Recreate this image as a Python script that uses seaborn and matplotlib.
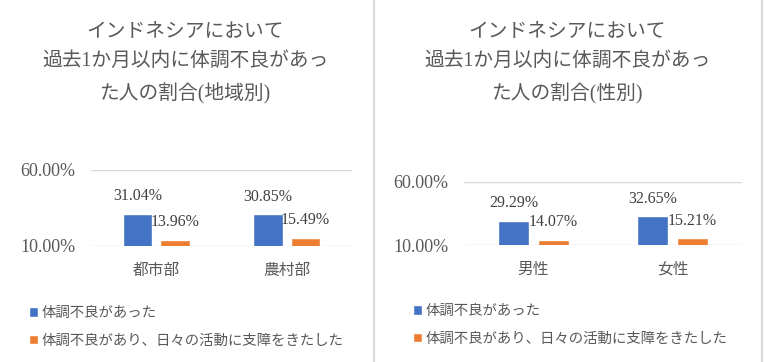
import matplotlib
matplotlib.use("Agg")
import matplotlib.pyplot as plt
from matplotlib.lines import Line2D
import pandas as pd
import seaborn as sns

# data
series_names = ["体調不良があった", "体調不良があり、日々の活動に支障をきたした"]
region_cats = ["都市部", "農村部"]
region_sick = [31.04, 30.85]
region_limited = [13.96, 15.49]
sex_cats = ["男性", "女性"]
sex_sick = [29.29, 32.65]
sex_limited = [14.07, 15.21]

title_region = "インドネシアにおいて\n過去1か月以内に体調不良があっ\nた人の割合(地域別)"
title_sex = "インドネシアにおいて\n過去1か月以内に体調不良があっ\nた人の割合(性別)"
ytick_vals = [0.10, 0.60]

colors = ["#4472C4", "#ED7D31"]
gray = "#595959"

sns.set_style("white")
plt.rcParams['font.family'] = ['Liberation Serif', 'Noto Sans CJK JP', 'DejaVu Sans']


def make_df(cats, sick, limited):
    rows = []
    for c, a, b in zip(cats, sick, limited):
        rows.append({"cat": c, "series": series_names[0], "value": a / 100})
        rows.append({"cat": c, "series": series_names[1], "value": b / 100})
    return pd.DataFrame(rows)


def draw_panel(fig, rect, df, cats, title_text, title_x, legend_xy):
    ax = fig.add_axes(rect)
    sns.barplot(data=df, x="cat", y="value", hue="series", order=cats,
                hue_order=series_names, palette=colors, width=0.58, gap=0.22,
                saturation=1, ax=ax, legend=True)
    ax.set_ylim(0.10, 0.60)
    ax.set_xlim(-0.5, 1.5)
    ax.set_yticks(ytick_vals)
    ax.set_yticklabels([f"{v*100:.2f}%" for v in ytick_vals])
    ax.set_xlabel("")
    ax.set_ylabel("")
    ax.grid(axis="y", color="#d9d9d9", linewidth=1)
    ax.set_axisbelow(True)
    for s in ax.spines.values():
        s.set_visible(False)
    ax.tick_params(axis="x", length=0, pad=12, labelsize=11.3, labelcolor=gray)
    ax.tick_params(axis="y", length=0, pad=11, labelsize=13, labelcolor=gray)

    for cont, name in zip(ax.containers, series_names):
        vals = df[df["series"] == name].set_index("cat").loc[cats, "value"]
        ax.bar_label(cont, labels=[f"{v*100:.2f}%" for v in vals],
                     padding=7, fontsize=11.5, color="#404040")

    sns.move_legend(ax, loc="upper left", bbox_to_anchor=legend_xy,
                    bbox_transform=fig.transFigure, frameon=False, title=None,
                    fontsize=10.4, handlelength=0.6, handleheight=0.6,
                    handletextpad=0.3, labelspacing=1.0, borderpad=0,
                    borderaxespad=0, labelcolor=gray)

    fig.text(title_x, 1 - 22 / 362, title_text, ha="center", va="top",
             fontsize=14.2, color=gray, linespacing=1.78)
    return ax


fig = plt.figure(figsize=(7.64, 3.62), dpi=100)
W, H = 764, 362

df_region = make_df(region_cats, region_sick, region_limited)
df_sex = make_df(sex_cats, sex_sick, sex_limited)

draw_panel(fig, [91 / W, 1 - 246 / H, (352 - 91) / W, (246 - 170) / H],
           df_region, region_cats, title_region, 185 / W,
           (29 / W, 1 - 307 / H))
draw_panel(fig, [464 / W, 1 - 245 / H, (742 - 464) / W, (245 - 182) / H],
           df_sex, sex_cats, title_sex, 567 / W,
           (413 / W, 1 - 305 / H))

# panel borders
fig.add_artist(Line2D([374 / W, 374 / W], [0, 1], color="#d9d9d9", linewidth=1.5))
fig.add_artist(Line2D([762 / W, 762 / W], [0, 1], color="#d9d9d9", linewidth=1.5))

fig.savefig("out.png", dpi=100)
